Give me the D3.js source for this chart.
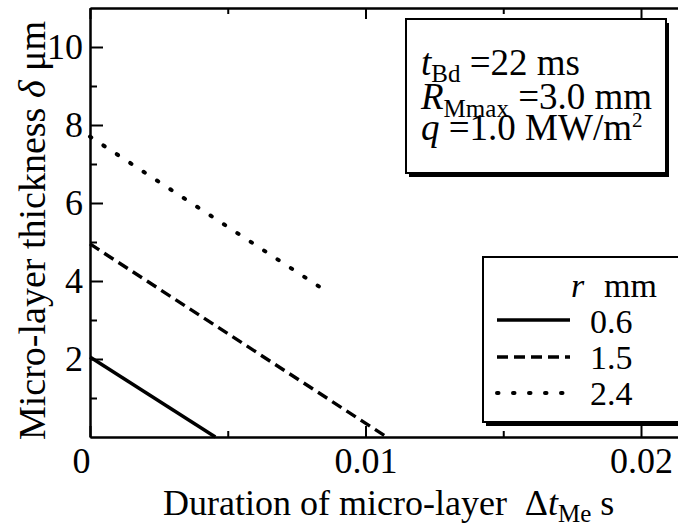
<!DOCTYPE html>
<html>
<head>
<meta charset="utf-8">
<script src="https://cdn.jsdelivr.net/npm/d3@7"></script>
<style>
  html, body { margin: 0; padding: 0; background: #fff; }
  svg text { font-family: "Liberation Serif", Tinos, "Times New Roman", Times, serif; fill: #000; white-space: pre; }
</style>
</head>
<body>
<svg id="chart" width="678" height="527"></svg>
<script>
// Bubble radius r (mm) for each curve
const radii = ["0.6", "1.5", "2.4"];
// Micro-layer duration (s) at each end of the curves
const durations = [
  [0, 0.00455],
  [0, 0.01077],
  [0, 0.00859]
];
// Micro-layer thickness (µm) at those durations
const thickness = [
  [2.05, 0],
  [4.95, 0],
  [7.70, 3.73]
];
const xMajorTicks = [0, 0.01, 0.02];
const xTickLabels = ["0", "0.01", "0.02"];
const xMinorTicks = [0.005, 0.015];
const yMajorTicks = [2, 4, 6, 8, 10];
const yMinorTicks = [1, 3, 5, 7, 9];

const dashStyles = ["none", "11,6", "1.5,14.5"];
const capStyles = ["butt", "butt", "round"];

const svg = d3.select("#chart");
const plotLeft = 90, plotTop = 8, plotBottom = 437;

const x = d3.scaleLinear().domain([0, 0.022]).range([plotLeft, plotLeft + 0.022 * 27550]);
const y = d3.scaleLinear().domain([0, 11]).range([plotBottom, plotTop]);

const TICK_FS = 36, BOX_FS = 37, LEG_FS = 34;

// axes
function styleAxis(g) {
  g.attr("font-family", null);
  g.selectAll("path.domain").attr("stroke", "#000").attr("stroke-width", 2);
  g.selectAll(".tick line").attr("stroke", "#000").attr("stroke-width", 2);
  g.selectAll(".tick text").attr("font-size", TICK_FS);
}

svg.append("g").attr("transform", `translate(${plotLeft},0)`)
  .call(d3.axisLeft(y).tickValues(yMajorTicks).tickSizeInner(-13).tickSizeOuter(0).tickPadding(7).tickFormat(d3.format("d")))
  .call(styleAxis);
svg.append("g").attr("transform", `translate(${plotLeft},0)`)
  .call(d3.axisLeft(y).tickValues(yMinorTicks).tickSizeInner(-7).tickSizeOuter(0).tickFormat(""))
  .call(styleAxis);

const xAxisG = svg.append("g").attr("transform", `translate(0,${plotBottom})`)
  .call(d3.axisBottom(x).tickValues(xMajorTicks).tickSizeInner(-11).tickSizeOuter(0).tickPadding(10)
    .tickFormat((d, i) => xTickLabels[i]))
  .call(styleAxis);
// the origin label sits just left of the corner
xAxisG.selectAll(".tick text").filter(d => d === 0).attr("dx", -9);
svg.append("g").attr("transform", `translate(0,${plotBottom})`)
  .call(d3.axisBottom(x).tickValues(xMinorTicks).tickSizeInner(-6).tickSizeOuter(0).tickFormat(""))
  .call(styleAxis);

svg.append("g").attr("transform", `translate(0,${plotTop})`)
  .call(d3.axisTop(x).tickValues(xMajorTicks).tickSizeInner(-11).tickSizeOuter(0).tickFormat(""))
  .call(styleAxis);
svg.append("g").attr("transform", `translate(0,${plotTop})`)
  .call(d3.axisTop(x).tickValues(xMinorTicks).tickSizeInner(-6).tickSizeOuter(0).tickFormat(""))
  .call(styleAxis);

// curves
const line = d3.line().x(d => x(d[0])).y(d => y(d[1]));
radii.forEach((r, i) => {
  const pts = durations[i].map((t, j) => [t, thickness[i][j]]);
  svg.append("path")
    .attr("d", line(pts))
    .attr("fill", "none")
    .attr("stroke", "#000")
    .attr("stroke-width", i === 2 ? 4 : 3.4)
    .attr("stroke-dasharray", dashStyles[i])
    .attr("stroke-linecap", capStyles[i]);
});

// boxes with drop shadow
function shadowBox(x0, y0, w, h) {
  svg.append("rect").attr("x", x0 + 3).attr("y", y0 + 4).attr("width", w).attr("height", h).attr("fill", "#000");
  svg.append("rect").attr("x", x0).attr("y", y0).attr("width", w).attr("height", h)
    .attr("fill", "#fff").attr("stroke", "#000").attr("stroke-width", 2);
}

// condition box
shadowBox(406, 19, 260, 154);
const cond = svg.append("g");
const l1 = cond.append("text").attr("x", 421).attr("y", 75).attr("font-size", BOX_FS);
l1.append("tspan").attr("font-style", "italic").text("t");
l1.append("tspan").attr("font-size", 25).attr("dy", 7).text("Bd");
l1.append("tspan").attr("dy", -7).text(" =22 ms");
const l2 = cond.append("text").attr("x", 421).attr("y", 109).attr("font-size", BOX_FS);
l2.append("tspan").attr("font-style", "italic").text("R");
l2.append("tspan").attr("font-size", 25).attr("dy", 8).text("Mmax");
l2.append("tspan").attr("dy", -8).text(" =3.0 mm");
const l3 = cond.append("text").attr("x", 421).attr("y", 140).attr("font-size", BOX_FS);
l3.append("tspan").attr("font-style", "italic").text("q");
l3.append("tspan").text(" =1.0 MW/m");
l3.append("tspan").attr("font-size", 21).attr("dy", -13).text("2");

// legend
shadowBox(483, 257, 220, 165);
const lg = svg.append("g");
lg.append("text").attr("x", 571).attr("y", 297).attr("font-size", LEG_FS).attr("font-style", "italic").text("r");
lg.append("text").attr("x", 604).attr("y", 297).attr("font-size", LEG_FS).text("mm");
const legY = [320, 357, 393];
const legText = [333, 369, 405];
radii.forEach((r, i) => {
  lg.append("line").attr("x1", 497).attr("x2", 570).attr("y1", legY[i]).attr("y2", legY[i])
    .attr("stroke", "#000").attr("stroke-width", i === 2 ? 4 : 3.4)
    .attr("stroke-dasharray", dashStyles[i]).attr("stroke-linecap", capStyles[i]);
  lg.append("text").attr("x", 590).attr("y", legText[i]).attr("font-size", LEG_FS).text(r);
});

// axis titles
const xt = svg.append("text").attr("x", 163).attr("y", 515).attr("font-size", 36);
xt.append("tspan").text("Duration of micro-layer  \u0394");
xt.append("tspan").attr("font-style", "italic").text("t");
xt.append("tspan").attr("font-size", 25).attr("dy", 7).text("Me");
xt.append("tspan").attr("dy", -7).text(" s");

const yt = svg.append("text").attr("transform", "translate(45,440) rotate(-90)").attr("font-size", 38);
yt.append("tspan").text("Micro-layer thickness ");
yt.append("tspan").attr("font-style", "italic").text("\u03b4");
yt.append("tspan").text(" \u03bcm");
</script>
</body>
</html>
